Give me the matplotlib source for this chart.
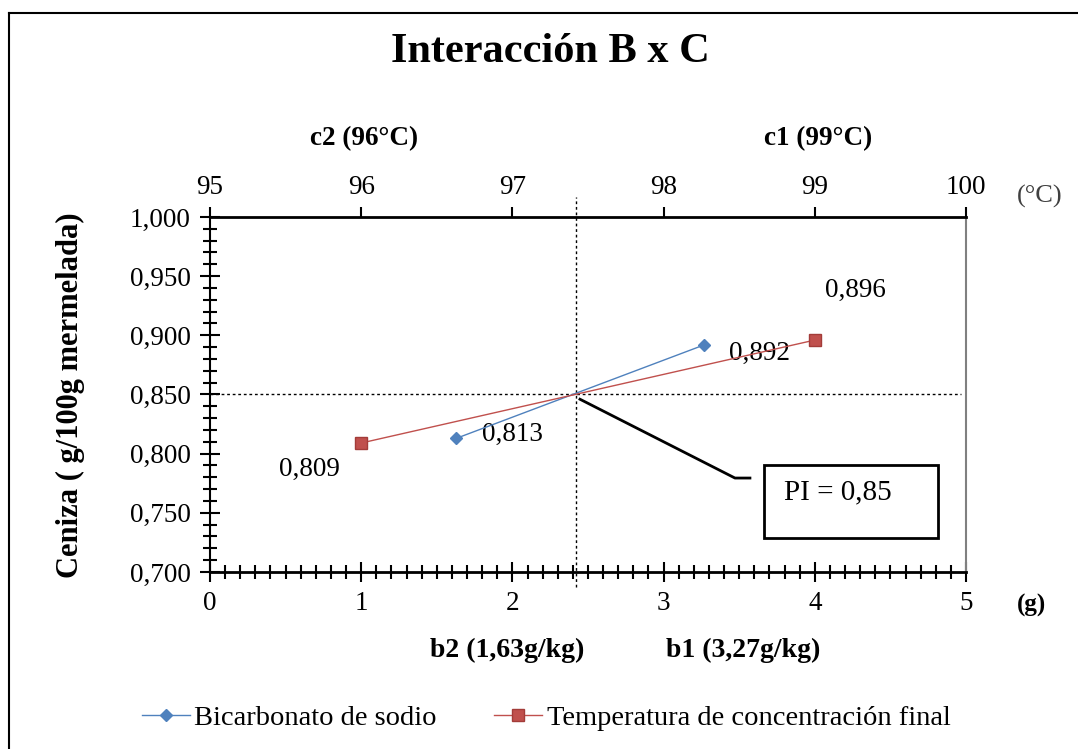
import numpy as np
import matplotlib.pyplot as plt
from matplotlib.lines import Line2D
from matplotlib.patches import Rectangle
from matplotlib.ticker import MultipleLocator, FuncFormatter

plt.rcParams['font.family'] = ['Liberation Serif', 'DejaVu Serif']

# data
b_x = [1.63, 3.27]            # bicarbonato (g/kg)
b_y = [0.813, 0.892]
c_x = [96, 99]                # temperatura (°C)
c_y = [0.809, 0.896]
b_labels = ['0,813', '0,892']
c_labels = ['0,809', '0,896']
pi_value = 0.85
pi_x = 2.42

W, H = 1078, 749
fig = plt.figure(figsize=(W / 100, H / 100), dpi=100)


def fx(px):
    return px / W


def fy(py):
    return 1 - py / H


ax = fig.add_axes([fx(210), fy(572), fx(966) - fx(210), fy(217) - fy(572)])
ax2 = ax.twiny()

blue = '#4f81bd'
red = '#c0504d'
ax.plot(b_x, b_y, color=blue, lw=1, marker='D', ms=6, mec=blue, mfc=blue, zorder=5)
ax2.plot(c_x, c_y, color=red, lw=1, marker='s', ms=8, mec='#a33c39', mfc=red, zorder=5)

ax.set_xlim(0, 5)
ax.set_ylim(0.7, 1.0)
ax2.set_xlim(95, 100)

comma = FuncFormatter(lambda v, p: f'{v:.3f}'.replace('.', ','))
ax.yaxis.set_major_locator(MultipleLocator(0.05))
ax.yaxis.set_minor_locator(MultipleLocator(0.01))
ax.yaxis.set_major_formatter(comma)
ax.xaxis.set_major_locator(MultipleLocator(1))
ax.xaxis.set_minor_locator(MultipleLocator(0.1))
ax2.xaxis.set_major_locator(MultipleLocator(1))

fs = 19.5
ax.tick_params(axis='y', which='major', direction='inout', length=14, width=1.5, labelsize=fs, pad=7)
ax.tick_params(axis='y', which='minor', direction='inout', length=10, width=1.5)
ax.tick_params(axis='x', which='major', direction='inout', length=14, width=1.5, labelsize=fs, pad=7)
ax.tick_params(axis='x', which='minor', direction='inout', length=10, width=1.5)
ax2.tick_params(axis='x', which='major', direction='out', length=7, width=1.5, labelsize=fs, pad=5)

ax.spines['top'].set_visible(False)
ax.spines['right'].set_color('#808080')
ax.spines['right'].set_linewidth(1.5)
ax.spines['left'].set_linewidth(1.5)
ax.spines['bottom'].set_linewidth(2)
for s in ['left', 'right', 'bottom']:
    ax2.spines[s].set_visible(False)
ax2.spines['top'].set_linewidth(2)

# reference lines
ax.plot([0, 4.97], [pi_value, pi_value], color='black', lw=1, ls=(0, (2, 2)), zorder=3)
ax.plot([pi_x, pi_x], [0.687, 1.017], color='black', lw=1, ls=(0, (2, 2)), clip_on=False, zorder=3)

# point labels
for x, y, t, off in zip(b_x, b_y, b_labels, [(40, 3), (40, -6)]):
    ax.annotate(t, (x, y), xytext=off, textcoords='offset points', fontsize=fs,
                ha='center', va='center')
for x, y, t, off in zip(c_x, c_y, c_labels, [(-37, -19), (29, 36)]):
    ax2.annotate(t, (x, y), xytext=off, textcoords='offset points', fontsize=fs,
                 ha='center', va='center')

# PI callout
ax.plot([2.447, 3.472, 3.571], [0.846, 0.7794, 0.7794], color='black', lw=2, zorder=4)
ax.add_patch(Rectangle((3.664, 0.7287), 1.151, 0.0617, fill=False, ec='black', lw=2, zorder=4))
ax.text(3.796, 0.7676, 'PI = 0,85', fontsize=21, ha='left', va='center')

# texts
fig.text(fx(550), fy(52), 'Interacción B x C', fontsize=30.5, fontweight='bold', ha='center', va='center')
fig.text(fx(364), fy(139), 'c2 (96°C)', fontsize=19.5, fontweight='bold', ha='center', va='center')
fig.text(fx(818), fy(139), 'c1 (99°C)', fontsize=19.5, fontweight='bold', ha='center', va='center')
fig.text(fx(1040), fy(196), '(°C)', fontsize=19, color='#404040', ha='center', va='center')
fig.text(fx(1031), fy(605), '(g)', fontsize=18, fontweight='bold', ha='center', va='center')
fig.text(fx(507), fy(650), 'b2 (1,63g/kg)', fontsize=20, fontweight='bold', ha='center', va='center')
fig.text(fx(743), fy(650), 'b1 (3,27g/kg)', fontsize=20, fontweight='bold', ha='center', va='center')
fig.text(fx(70), fy(395), 'Ceniza ( g/100g mermelada)', fontsize=22, fontweight='bold',
         rotation=90, ha='center', va='center')

# legend
handles = [Line2D([], [], color=blue, lw=1, marker='D', ms=6, mfc=blue, mec=blue),
           Line2D([], [], color=red, lw=1, marker='s', ms=8, mfc=red, mec='#a33c39')]
fig.legend(handles, ['Bicarbonato de sodio', 'Temperatura de concentración final'],
           loc='center', bbox_to_anchor=(fx(546), fy(718)), ncol=2, frameon=False,
           fontsize=20.5, handlelength=1.7, handletextpad=0.15, columnspacing=2.0)

# outer frame (left and top edges)
fig.add_artist(Line2D([fx(9), fx(9)], [0, fy(13)], color='black', lw=1.5))
fig.add_artist(Line2D([fx(9), 1], [fy(13), fy(13)], color='black', lw=1.5))

fig.savefig('out.png', dpi=100)
